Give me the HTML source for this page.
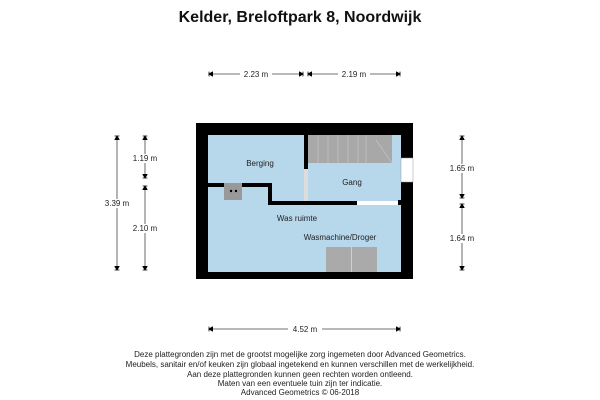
<!DOCTYPE html><html><head><style>body{margin:0;background:#fff}svg{display:block}text{font-family:"Liberation Sans",sans-serif}</style></head><body>
<svg width="600" height="400" xmlns="http://www.w3.org/2000/svg">
<defs><marker id="a" markerWidth="6" markerHeight="6" refX="5" refY="3" orient="auto-start-reverse"><path d="M0,0L5,3L0,6Z M5,0V6" fill="#000" stroke="#000" stroke-width="1"/></marker></defs>
<text x="300" y="22" font-size="16" font-weight="bold" text-anchor="middle" fill="#111">Kelder, Breloftpark 8, Noordwijk</text>
<rect x="196" y="123" width="217" height="156" fill="#000"/>
<rect x="208" y="135" width="193" height="137" fill="#b7d7ea"/>
<rect x="308" y="135" width="84" height="28" fill="#a8a8a8"/>
<g stroke="#c4c4c4" stroke-width="0.7"><line x1="318" y1="135" x2="318" y2="163"/><line x1="328" y1="135" x2="328" y2="163"/><line x1="338" y1="135" x2="338" y2="163"/><line x1="348" y1="135" x2="348" y2="163"/><line x1="358" y1="135" x2="358" y2="163"/><line x1="366" y1="135" x2="366" y2="163"/><line x1="376" y1="140" x2="392" y2="163"/></g>
<rect x="208" y="183" width="64" height="4" fill="#000"/>
<rect x="268" y="183" width="4" height="22" fill="#000"/>
<rect x="268" y="201" width="89" height="4" fill="#000"/>
<rect x="357" y="201" width="41" height="4" fill="#fff"/>
<rect x="398" y="200" width="3" height="5" fill="#000"/>
<rect x="304" y="135" width="4" height="34" fill="#000"/>
<rect x="304" y="169" width="4" height="32" fill="#ddd"/>
<rect x="401" y="158" width="12" height="24" fill="#fff" stroke="#999" stroke-width="0.5"/>
<rect x="224" y="183" width="18" height="17" fill="#999"/>
<circle cx="231" cy="191" r="1.2" fill="#000"/><circle cx="236" cy="191" r="1.2" fill="#000"/>
<rect x="326" y="247" width="25" height="25" fill="#aaa"/><rect x="352" y="247" width="25" height="25" fill="#aaa"/>
<g font-size="8" fill="#222" text-anchor="middle">
<text x="260" y="166">Berging</text><text x="352" y="185">Gang</text><text x="297" y="221">Was ruimte</text><text x="340" y="240">Wasmachine/Droger</text>
</g>
<g stroke="#444" stroke-width="0.8" marker-start="url(#a)" marker-end="url(#a)">
<line x1="209" y1="74" x2="303" y2="74"/><line x1="308" y1="74" x2="400" y2="74"/>
<line x1="209" y1="329" x2="400" y2="329"/>
<line x1="117" y1="136" x2="117" y2="270"/>
<line x1="145" y1="136" x2="145" y2="178"/><line x1="145" y1="186" x2="145" y2="270"/>
<line x1="462" y1="136" x2="462" y2="198"/><line x1="462" y1="204" x2="462" y2="270"/>
</g>
<g font-size="8" fill="#222" text-anchor="middle">
<rect x="240" y="70" width="32" height="8" fill="#fff"/><text x="256" y="77">2.23 m</text>
<rect x="338" y="70" width="32" height="8" fill="#fff"/><text x="354" y="77">2.19 m</text>
<rect x="288" y="325" width="34" height="8" fill="#fff"/><text x="305" y="332">4.52 m</text>
<rect x="101" y="199" width="32" height="9" fill="#fff"/><text x="117" y="206">3.39 m</text>
<rect x="129" y="154" width="32" height="9" fill="#fff"/><text x="145" y="161">1.19 m</text>
<rect x="129" y="224" width="32" height="9" fill="#fff"/><text x="145" y="231">2.10 m</text>
<rect x="446" y="164" width="32" height="9" fill="#fff"/><text x="462" y="171">1.65 m</text>
<rect x="446" y="234" width="32" height="9" fill="#fff"/><text x="462" y="241">1.64 m</text>
</g>
<g font-size="8" fill="#222" text-anchor="middle">
<text x="300" y="357">Deze plattegronden zijn met de grootst mogelijke zorg ingemeten door Advanced Geometrics.</text>
<text x="300" y="367">Meubels, sanitair en/of keuken zijn globaal ingetekend en kunnen verschillen met de werkelijkheid.</text>
<text x="300" y="377">Aan deze plattegronden kunnen geen rechten worden ontleend.</text>
<text x="300" y="386">Maten van een eventuele tuin zijn ter indicatie.</text>
<text x="300" y="395">Advanced Geometrics © 06-2018</text>
</g>
</svg></body></html>
